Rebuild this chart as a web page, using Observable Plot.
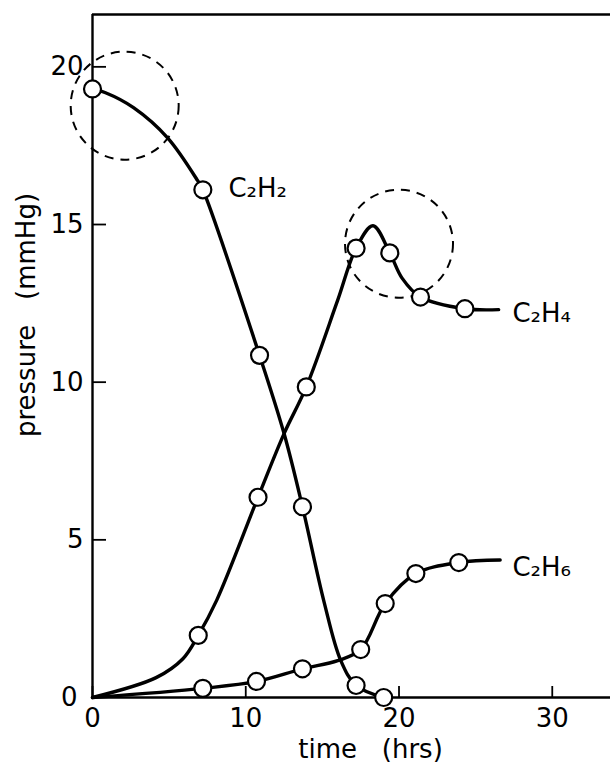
<!DOCTYPE html>
<html>
<head>
<meta charset="utf-8">
<script src="https://cdn.jsdelivr.net/npm/d3@7"></script>
<script src="https://cdn.jsdelivr.net/npm/@observablehq/plot@0.6"></script>
<style>
  html, body { margin: 0; padding: 0; background: white; overflow: hidden; }
  #chart { width: 610px; height: 764px; overflow: hidden; }
  #chart svg { display: block; overflow: hidden; }
</style>
</head>
<body>
<div id="chart"></div>
<script>
// ---- axis setup ----
const xMax = 33.8;
const yMax = 21.66;
const xTicks = [0, 10, 20, 30];
const yTicks = [5, 10, 15, 20];
const yZeroTick = [0];
const xLabel = "time\u00a0\u00a0\u00a0(hrs)";
const yLabel = "pressure\u00a0\u00a0\u00a0(mmHg)";

// ---- C2H2 ----
const c2h2T = [0, 7.2, 10.9, 13.7, 17.2, 19.0];
const c2h2P = [19.3, 16.1, 10.85, 6.05, 0.38, 0.0];
const c2h2CurveT = [0, 0.85, 2.7, 4.9, 6.85, 7.2, 10.9, 12.5, 13.7, 15.1, 16.2, 17.2, 19.0];
const c2h2CurveP = [19.3, 19.18, 18.7, 17.75, 16.4, 16.1, 10.85, 8.37, 6.05, 3.05, 1.17, 0.38, 0.0];

// ---- C2H4 ----
const c2h4T = [6.9, 10.8, 13.95, 17.2, 19.4, 21.4, 24.3];
const c2h4P = [1.97, 6.35, 9.85, 14.25, 14.1, 12.7, 12.33];
const c2h4CurveT = [0, 4.15, 5.9, 6.9, 8.1, 10.8, 12.5, 13.95, 16.0, 17.2, 18.3, 19.4, 20.2, 21.4, 24.3, 26.5];
const c2h4CurveP = [0, 0.63, 1.23, 1.97, 3.08, 6.35, 8.37, 9.85, 12.6, 14.25, 14.96, 14.1, 13.3, 12.7, 12.33, 12.3];

// ---- C2H6 ----
const c2h6T = [7.2, 10.7, 13.7, 17.5, 19.1, 21.1, 23.9];
const c2h6P = [0.29, 0.51, 0.91, 1.52, 2.98, 3.93, 4.28];
const c2h6CurveT = [0, 7.2, 10.7, 13.7, 16.0, 17.5, 19.1, 21.1, 23.9, 26.6];
const c2h6CurveP = [0, 0.29, 0.51, 0.91, 1.17, 1.52, 2.98, 3.93, 4.28, 4.36];

// ---- series labels ----
const seriesNames = ["C\u2082H\u2082", "C\u2082H\u2084", "C\u2082H\u2086"];
const seriesLabelT = [8.87, 27.4, 27.4];
const seriesLabelP = [16.14, 12.17, 4.12];

// ---- dashed highlight circles ----
const dashT = [2.1, 20.0];
const dashP = [18.77, 14.39];

const lineStyle = {curve: "catmull-rom", stroke: "black", strokeWidth: 3.4};
const dotStyle = {r: 8.5, fill: "white", stroke: "black", strokeWidth: 2.2};
const noText = () => "";

const chart = Plot.plot({
  width: 610,
  height: 764,
  marginLeft: 92,
  marginRight: 0,
  marginTop: 14,
  marginBottom: 67,
  style: {fontFamily: "DejaVu Sans", fontSize: "26px", background: "white", color: "black", overflow: "hidden"},
  x: {domain: [0, xMax]},
  y: {domain: [0, yMax]},
  marks: [
    Plot.ruleX([0], {stroke: "black", strokeWidth: 2.4}),
    Plot.ruleY([0], {stroke: "black", strokeWidth: 2.4}),
    Plot.ruleY([yMax], {stroke: "black", strokeWidth: 2.4}),
    // inward tick marks
    Plot.axisX(xTicks, {anchor: "top", frameAnchor: "bottom", tickSize: 12, stroke: "black", strokeWidth: 1.8, tickFormat: noText, label: null}),
    Plot.axisY(yTicks, {anchor: "right", frameAnchor: "left", tickSize: 13, stroke: "black", strokeWidth: 1.8, tickFormat: noText, label: null}),
    // tick labels
    Plot.axisX(xTicks, {tickSize: 0, tickPadding: 11, fontSize: 26, fill: "black", label: null, tickFormat: d => String(d)}),
    Plot.axisY(yTicks, {tickSize: 0, tickPadding: 9, fontSize: 26, fill: "black", label: null, tickFormat: d => String(d)}),
    Plot.axisY(yZeroTick, {tickSize: 0, tickPadding: 15, fontSize: 26, fill: "black", label: null, tickFormat: d => String(d)}),
    // axis titles
    Plot.text([xLabel], {frameAnchor: "bottom", lineAnchor: "middle", textAnchor: "middle", dx: 19, dy: 52, fontSize: 26, fill: "black", text: d => d}),
    Plot.text([yLabel], {frameAnchor: "left", lineAnchor: "middle", textAnchor: "middle", rotate: -90, dx: -66, dy: -41, fontSize: 26, fill: "black", text: d => d}),
    // dashed highlight circles
    Plot.dot(dashT, {x: dashT, y: dashP, r: 54, fill: "none", stroke: "black", strokeWidth: 2, strokeDasharray: "9,7"}),
    // curves
    Plot.line(c2h2CurveT, {x: c2h2CurveT, y: c2h2CurveP, ...lineStyle}),
    Plot.line(c2h4CurveT, {x: c2h4CurveT, y: c2h4CurveP, ...lineStyle}),
    Plot.line(c2h6CurveT, {x: c2h6CurveT, y: c2h6CurveP, ...lineStyle}),
    // observed points
    Plot.dot(c2h2T, {x: c2h2T, y: c2h2P, ...dotStyle}),
    Plot.dot(c2h4T, {x: c2h4T, y: c2h4P, ...dotStyle}),
    Plot.dot(c2h6T, {x: c2h6T, y: c2h6P, ...dotStyle}),
    // series labels
    Plot.text(seriesNames, {x: seriesLabelT, y: seriesLabelP, text: seriesNames, textAnchor: "start", fontSize: 26, fill: "black"})
  ]
});
document.getElementById("chart").appendChild(chart);
</script>
</body>
</html>
